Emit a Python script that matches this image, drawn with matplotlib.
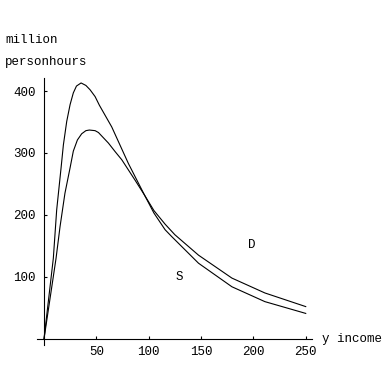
import matplotlib
matplotlib.use("Agg")
import matplotlib.pyplot as plt

# values (income vs. million personhours)
curve_a_x = [0, 11.5, 15.3, 20, 24.9, 28, 31.9, 36, 40, 43.3, 48.8, 52, 61.5, 68, 74.3, 87, 96,
             105, 115.7, 125, 147.6, 179.5, 211, 250]
curve_a_y = [0, 130, 181, 235, 276, 303, 321, 331, 336, 337, 336, 333, 316, 302, 289, 256, 232,
             207, 185, 168, 135, 98, 74, 52]

curve_b_x = [0, 8.9, 12.1, 16.3, 18.5, 21.7, 24.9, 28, 31, 35.4, 40, 44, 48.8, 52.9, 64.7, 80.6, 96,
             105, 115.7, 122, 147.6, 179.5, 211, 250]
curve_b_y = [0, 130, 208, 276, 313, 351, 378, 397, 408, 413, 409, 402, 391, 377, 342, 283, 232,
             203, 176, 165, 122, 84, 60, 41]

x_ticks = [50, 100, 150, 200, 250]
y_ticks = [100, 200, 300, 400]

labels = [("D", 198.6, 151), ("S", 129, 100)]

FONT = "Liberation Mono"

fig = plt.figure(figsize=(3.88, 3.86), dpi=100)
ax = fig.add_axes([37 / 388, 41 / 386, 275 / 388, 267 / 386])

ax.plot(curve_a_x, curve_a_y, color="black", linewidth=0.8)
ax.plot(curve_b_x, curve_b_y, color="black", linewidth=0.8)

for txt, x, y in labels:
    ax.text(x, y, txt, family=FONT, fontsize=9, ha="center", va="center")

ax.set_xlim(-6.7, 256)
ax.set_ylim(-10, 421)

for side in ["top", "right"]:
    ax.spines[side].set_visible(False)
ax.spines["left"].set_position(("data", 0))
ax.spines["bottom"].set_position(("data", 0))
ax.spines["left"].set_linewidth(0.8)
ax.spines["bottom"].set_linewidth(0.8)

ax.set_xticks(x_ticks)
ax.set_yticks(y_ticks)
ax.tick_params(direction="in", length=2.5, width=0.8, labelsize=9)
ax.tick_params(axis="x", pad=5)
ax.tick_params(axis="y", pad=6)
for lab in ax.get_xticklabels() + ax.get_yticklabels():
    lab.set_family(FONT)

fig.text(5 / 388, 1 - 40 / 386, "million", family=FONT, fontsize=9, va="center")
fig.text(5 / 388, 1 - 62 / 386, "personhours", family=FONT, fontsize=9, va="center")
fig.text(322 / 388, 1 - 339 / 386, "y income", family=FONT, fontsize=9, va="center")

fig.savefig("out.png", dpi=100)
